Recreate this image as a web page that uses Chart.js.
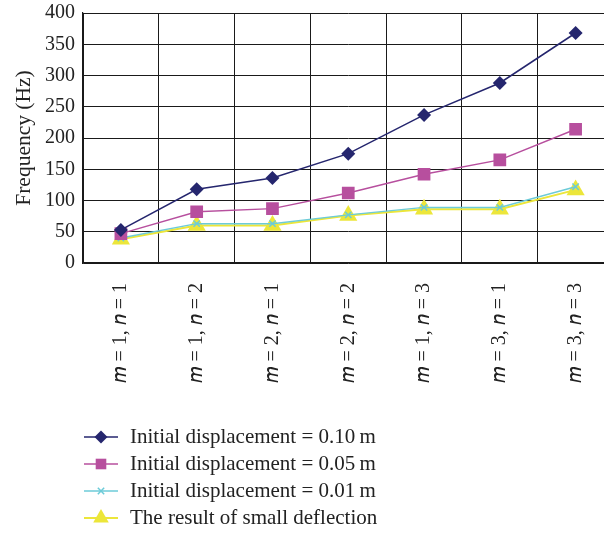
<!DOCTYPE html>
<html lang="en">
<head>
<meta charset="UTF-8">
<title>Frequency by mode</title>
<script src="https://cdn.jsdelivr.net/npm/chart.js"></script>
<style>
  html, body { margin: 0; padding: 0; background: #fff; overflow: hidden; }
  #wrap { position: relative; width: 604px; height: 533px; overflow: hidden; }
  #chartBox { position: absolute; left: 0; top: 0; width: 624px; height: 400px; }
  #legend { position: absolute; left: 84px; top: 423px; font-family: 'Liberation Serif', serif; font-size: 21px; color: #222; }
  .row { height: 27px; display: flex; align-items: center; white-space: nowrap; }
  .row canvas { margin-right: 12px; }
</style>
</head>
<body>
<div id="wrap">
  <div id="chartBox"><canvas id="freqChart"></canvas></div>
  <div id="legend"></div>
</div>
<script>
// mode labels (m, n)
const modes = ['𝑚 = 1, 𝑛 = 1', '𝑚 = 1, 𝑛 = 2', '𝑚 = 2, 𝑛 = 1', '𝑚 = 2, 𝑛 = 2', '𝑚 = 1, 𝑛 = 3', '𝑚 = 3, 𝑛 = 1', '𝑚 = 3, 𝑛 = 3'];

// frequencies in Hz
const disp010 = [53, 118, 136, 175, 237, 288, 368];
const disp005 = [47, 82, 87, 112, 142, 165, 214];
const disp001 = [40, 63, 63, 77, 89, 89, 122];
const smallDefl = [38, 60, 60, 76, 86, 86, 117];

const yTicks = [0, 50, 100, 150, 200, 250, 300, 350, 400];

const seriesNames = [
    'Initial displacement = 0.10\u2009m',
    'Initial displacement = 0.05\u2009m',
    'Initial displacement = 0.01\u2009m',
    'The result of small deflection'
];

const serif = "'Liberation Serif', 'Times New Roman', serif";

const datasets = [
    { label: seriesNames[0], data: disp010, borderColor: '#25266e', backgroundColor: '#25266e',
      pointStyle: 'rectRot', pointRadius: 7, borderWidth: 1.5, legendR: 6.5 },
    { label: seriesNames[1], data: disp005, borderColor: '#b74f9e', backgroundColor: '#b74f9e',
      pointStyle: 'rect', pointRadius: 9, borderWidth: 1.5, legendR: 7.5 },
    { label: seriesNames[2], data: disp001, borderColor: '#6ccbd8', backgroundColor: '#6ccbd8',
      pointStyle: 'crossRot', pointRadius: 4.5, borderWidth: 1.5, pointBorderWidth: 1.5, legendR: 4.5 },
    { label: seriesNames[3], data: smallDefl, borderColor: '#ece63a', backgroundColor: '#ece63a',
      pointStyle: 'triangle', pointRadius: 10.5, borderWidth: 2, legendR: 9 }
];
datasets.forEach(d => { d.tension = 0; d.fill = false; d.pointBorderWidth = d.pointBorderWidth || 0; d.pointHoverRadius = d.pointRadius; });

const freqChart = new Chart(document.getElementById('freqChart'), {
    type: 'line',
    data: { labels: modes, datasets: datasets },
    options: {
        responsive: true,
        maintainAspectRatio: false,
        animation: false,
        layout: { padding: { top: 13, left: 0, right: 0, bottom: 0 } },
        plugins: { legend: { display: false }, tooltip: { enabled: false } },
        scales: {
            x: {
                type: 'category',
                offset: true,
                grid: { offset: true, color: '#1a1a1a', lineWidth: 1, drawTicks: false },
                border: { color: '#1a1a1a', width: 1.2 },
                ticks: { minRotation: 90, maxRotation: 90, padding: 20, color: '#222',
                         font: { family: serif, size: 20 } },
                afterFit: s => { s.height = 137; s.paddingRight = 0; }
            },
            y: {
                min: 0, max: 400,
                afterBuildTicks: s => { s.ticks = yTicks.map(v => ({ value: v })); },
                grid: { color: '#1a1a1a', lineWidth: 1, drawTicks: false },
                border: { color: '#1a1a1a', width: 1.2 },
                ticks: { padding: 8, color: '#222', font: { family: serif, size: 20 } },
                title: { display: true, text: 'Frequency (Hz)', color: '#222',
                         font: { family: serif, size: 21.5 }, padding: { top: 11, bottom: 0 } },
                afterFit: s => { s.width = 83; s.paddingTop = 0; s.paddingBottom = 0; }
            }
        }
    }
});

// legend: line with marker, then the series name
const legendBox = document.getElementById('legend');
datasets.forEach(d => {
    const row = document.createElement('div');
    row.className = 'row';
    const c = document.createElement('canvas');
    c.width = 34; c.height = 22;
    const ctx = c.getContext('2d');
    ctx.strokeStyle = d.borderColor;
    ctx.lineWidth = d.borderWidth;
    ctx.beginPath(); ctx.moveTo(0, 11); ctx.lineTo(34, 11); ctx.stroke();
    ctx.fillStyle = d.backgroundColor;
    ctx.lineWidth = d.pointBorderWidth || 0;
    Chart.helpers.drawPoint(ctx, { pointStyle: d.pointStyle, radius: d.legendR, rotation: 0,
                                   borderWidth: d.pointBorderWidth || 0 }, 17, 11);
    row.appendChild(c);
    const span = document.createElement('span');
    span.textContent = d.label;
    row.appendChild(span);
    legendBox.appendChild(row);
});
</script>
</body>
</html>
